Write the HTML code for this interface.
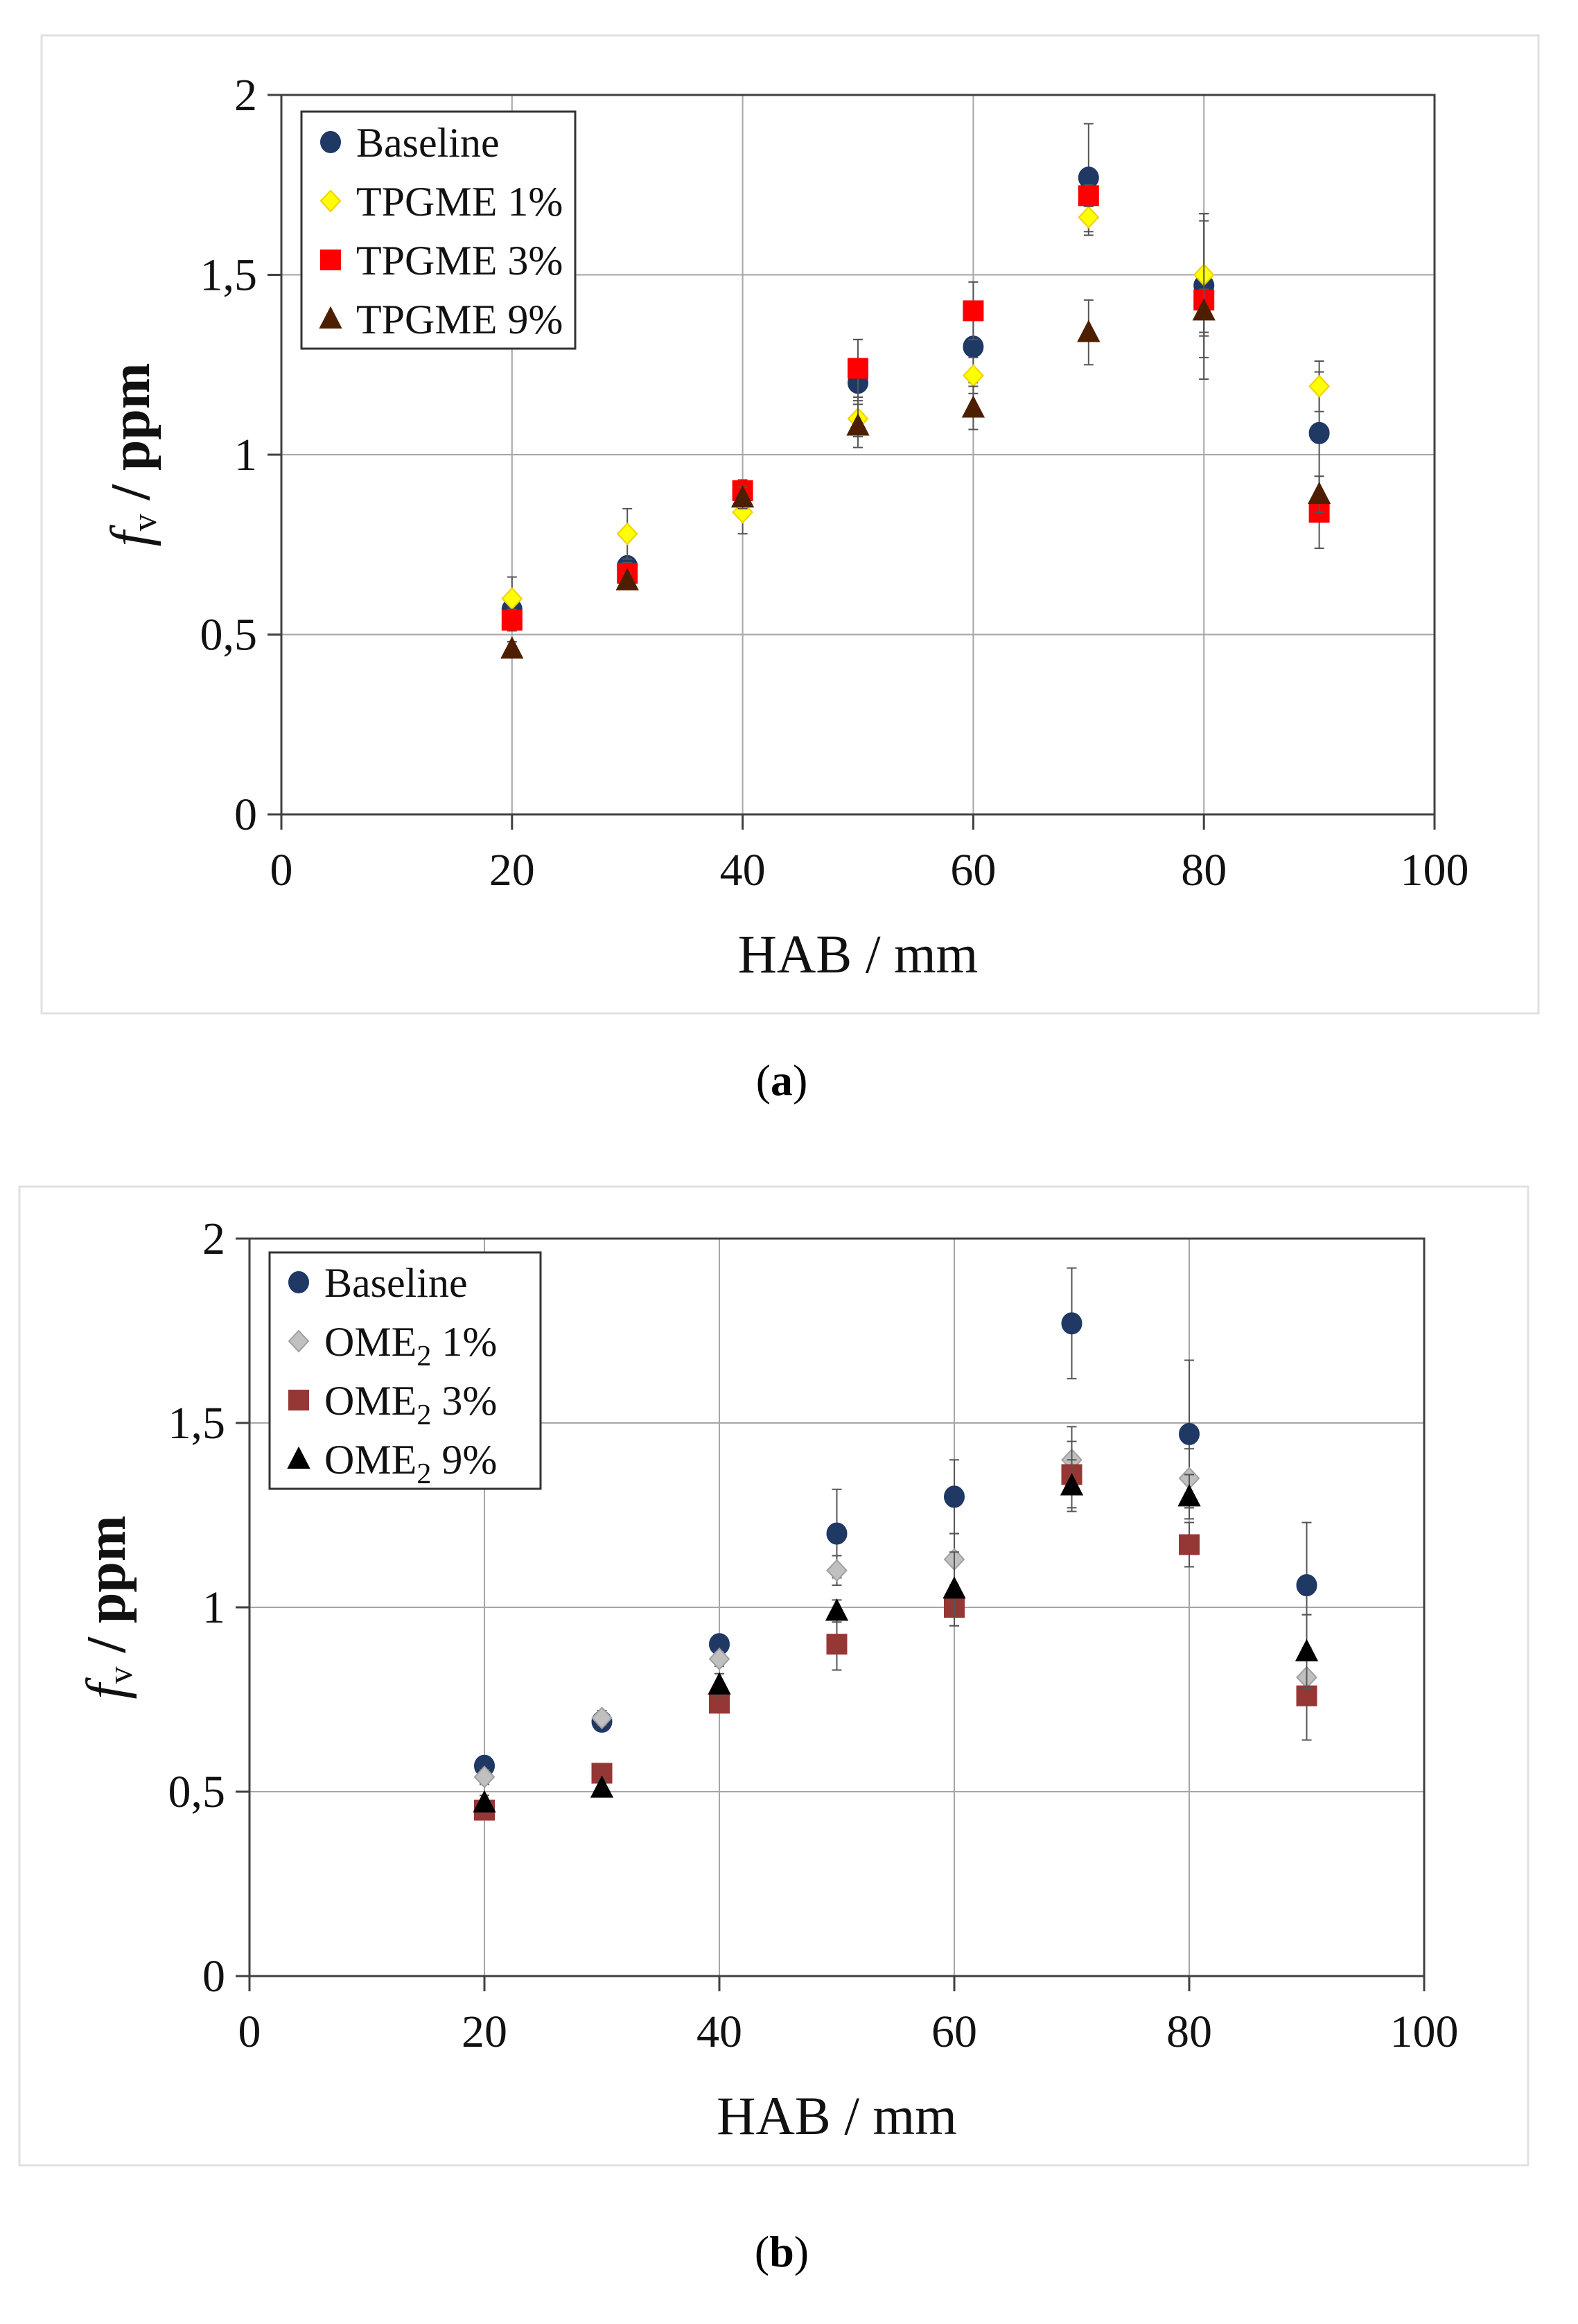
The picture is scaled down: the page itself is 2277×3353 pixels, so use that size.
<!DOCTYPE html>
<html><head><meta charset="utf-8">
<style>
html,body{margin:0;padding:0;background:#fff;}
svg{display:block;font-family:"Liberation Serif",serif;}
</style></head>
<body>
<svg id="fig" width="2277" height="3353" viewBox="0 0 2277 3353" xmlns="http://www.w3.org/2000/svg">
<rect x="0" y="0" width="2277" height="3353" fill="#fff"/>
<rect x="60" y="51" width="2160" height="1411" fill="none" stroke="#e0e0e0" stroke-width="3"/>
<rect x="28" y="1712" width="2177" height="1412" fill="none" stroke="#e0e0e0" stroke-width="3"/>
<text x="1128" y="1580" font-size="64" text-anchor="middle">(<tspan font-weight="bold">a</tspan>)</text>
<text x="1128" y="3270" font-size="64" text-anchor="middle">(<tspan font-weight="bold">b</tspan>)</text>
</svg>
<script>
const xCats = [20,30,40,50,60,70,80,90];
const xTicks = [0,20,40,60,80,100];
const yTicks = [0,0.5,1,1.5,2];
const yTickLabels = ["0","0,5","1","1,5","2"];
const aBaseline = [0.57,0.69,0.89,1.20,1.30,1.77,1.47,1.06];
const aBaselineErr = [0.03,0.02,0.03,0.12,0.10,0.15,0.20,0.17];
const aT1 = [0.60,0.78,0.84,1.10,1.22,1.66,1.50,1.19];
const aT1Err = [0.06,0.07,0.06,0.05,0.05,0.05,0.17,0.07];
const aT3 = [0.54,0.67,0.90,1.24,1.40,1.72,1.43,0.84];
const aT3Err = [0.03,0.03,0.03,0.08,0.08,0.03,0.22,0.10];
const aT9 = [0.46,0.65,0.88,1.08,1.13,1.34,1.40,0.89];
const aT9Err = [0.02,0.02,0.03,0.06,0.06,0.09,0.06,0.05];
const bBaseline = [0.57,0.69,0.90,1.20,1.30,1.77,1.47,1.06];
const bBaselineErr = [0.02,0.02,0.02,0.12,0.10,0.15,0.20,0.17];
const bO1 = [0.54,0.70,0.86,1.10,1.13,1.40,1.35,0.81];
const bO1Err = [0.02,0.02,0.02,0.04,0.07,0.09,0.08,0.17];
const bO3 = [0.45,0.55,0.74,0.90,1.00,1.36,1.17,0.76];
const bO3Err = [0.02,0.02,0.02,0.07,0.05,0.09,0.06,0.12];
const bO9 = [0.47,0.51,0.79,0.99,1.05,1.33,1.30,0.88];
const bO9Err = [0.02,0.02,0.03,0.03,0.10,0.07,0.06,0.10];

const NS="http://www.w3.org/2000/svg";
const svg=document.getElementById('fig');
function mk(tag,attrs,parent){const e=document.createElementNS(NS,tag);for(const k in attrs)e.setAttribute(k,attrs[k]);(parent||svg).appendChild(e);return e;}

function marker(g,shape,cx,cy,fill,stroke){
  let e;
  if(shape==='circle'){e=mk('ellipse',{cx:cx,cy:cy,rx:14,ry:15,fill:fill,stroke:stroke,'stroke-width':2},g);}
  else if(shape==='square'){e=mk('rect',{x:cx-14,y:cy-14,width:28,height:28,fill:fill,stroke:stroke,'stroke-width':2},g);}
  else if(shape==='diamond'){e=mk('polygon',{points:`${cx},${cy-15} ${cx+14},${cy} ${cx},${cy+15} ${cx-14},${cy}`,fill:fill,stroke:stroke,'stroke-width':2},g);}
  else {e=mk('polygon',{points:`${cx},${cy-16} ${cx+15},${cy+13} ${cx-15},${cy+13}`,fill:fill,stroke:stroke,'stroke-width':2},g);}
  return e;
}

function chart(id,L,R,T,B,series,legend,xTitle,yTitleX){
  const g=mk('g',{});
  
  
  const sx=v=>L+(v-0)/(100-0)*(R-L);
  const sy=v=>B-(v-0)/(2-0)*(B-T);
  xTicks.forEach(t=>{ if(t>0&&t<100){const l=mk('line',{x1:sx(t),x2:sx(t),y1:T,y2:B,stroke:'#a6a6a6','stroke-width':2},g);
    
    }});
  yTicks.forEach(t=>{ if(t>0&&t<2){const l=mk('line',{x1:L,x2:R,y1:sy(t),y2:sy(t),stroke:'#a6a6a6','stroke-width':2},g);
    
    }});
  const fr=mk('rect',{x:L,y:T,width:R-L,height:B-T,fill:'none',stroke:'#404040','stroke-width':3},g);
  
  
  xTicks.forEach(t=>{
    mk('line',{x1:sx(t),x2:sx(t),y1:B,y2:B+22,stroke:'#404040','stroke-width':3},g);
    const tx=mk('text',{x:sx(t),y:B+102,'font-size':66,'text-anchor':'middle',fill:'#111'},g);
    tx.textContent=t;
    
    
  });
  yTicks.forEach((t,i)=>{
    mk('line',{x1:L-20,x2:L,y1:sy(t),y2:sy(t),stroke:'#404040','stroke-width':3},g);
    const tx=mk('text',{x:L-35,y:sy(t)+22,'font-size':66,'text-anchor':'end',fill:'#111'},g);
    tx.textContent=yTickLabels[i];
    
    
  });
  const xt=mk('text',{x:(L+R)/2,y:B+228,'font-size':78,'text-anchor':'middle',fill:'#111'},g);
  xt.textContent=xTitle;
  
  
  const ycy=(T+B)/2;
  const yt=mk('text',{x:yTitleX,y:ycy,'font-size':80,'text-anchor':'middle',fill:'#111',transform:`rotate(-90 ${yTitleX} ${ycy})`},g);
  yt.innerHTML='<tspan font-style="italic">f</tspan><tspan font-size="50" dy="10">v</tspan><tspan dy="-10" font-weight="bold"> / ppm</tspan>';
  
  
  series.forEach(s=>{
    const sg=mk('g',{},g);
    
    
    xCats.forEach((x,i)=>{
      const cx=sx(x),v=s.vals[i],e=s.err[i];
      const eb=mk('path',{d:`M${cx},${sy(v-e)}V${sy(v+e)}M${cx-7},${sy(v-e)}H${cx+7}M${cx-7},${sy(v+e)}H${cx+7}`,stroke:'#555','stroke-width':2,fill:'none'},sg);
      
      
    });
    xCats.forEach((x,i)=>{
      const m=marker(sg,s.shape,sx(x),sy(s.vals[i]),s.fill,s.stroke);
      
      
    });
  });
  const lg=mk('g',{},g);
  
  
  mk('rect',{x:legend.x,y:legend.y,width:legend.w,height:legend.h,fill:'#fff',stroke:'#333','stroke-width':3},lg);
  series.forEach((s,i)=>{
    const cy=legend.row0+i*85;
    const m=marker(lg,s.shape,legend.x+42,cy,s.fill,s.stroke);
    
    
    const t=mk('text',{x:legend.x+79,y:cy+21,'font-size':60,fill:'#111'},lg);
    t.innerHTML=s.label;
    
    
  });
}

chart('chart-a',406,2070,137,1175,[
  {key:'baseline',vals:aBaseline,err:aBaselineErr,shape:'circle',fill:'#1f3864',stroke:'#1f3864',label:'Baseline'},
  {key:'tpgme-1',vals:aT1,err:aT1Err,shape:'diamond',fill:'#ffff00',stroke:'#f0d000',label:'TPGME 1%'},
  {key:'tpgme-3',vals:aT3,err:aT3Err,shape:'square',fill:'#ff0000',stroke:'#ff0000',label:'TPGME 3%'},
  {key:'tpgme-9',vals:aT9,err:aT9Err,shape:'triangle',fill:'#4d1f00',stroke:'#4d1f00',label:'TPGME 9%'}
],{x:435,y:161,w:395,h:342,row0:205},'HAB / mm',215);

chart('chart-b',360,2055,1787,2851,[
  {key:'baseline',vals:bBaseline,err:bBaselineErr,shape:'circle',fill:'#1f3864',stroke:'#1f3864',label:'Baseline'},
  {key:'ome2-1',vals:bO1,err:bO1Err,shape:'diamond',fill:'#c0c0c0',stroke:'#a0a0a0',label:'OME<tspan font-size="42" dy="14">2</tspan><tspan dy="-14">  1%</tspan>'},
  {key:'ome2-3',vals:bO3,err:bO3Err,shape:'square',fill:'#953735',stroke:'#953735',label:'OME<tspan font-size="42" dy="14">2</tspan><tspan dy="-14">  3%</tspan>'},
  {key:'ome2-9',vals:bO9,err:bO9Err,shape:'triangle',fill:'#000',stroke:'#000',label:'OME<tspan font-size="42" dy="14">2</tspan><tspan dy="-14">  9%</tspan>'}
],{x:389,y:1807,w:391,h:341,row0:1850},'HAB / mm',180);
</script>
</body></html>
